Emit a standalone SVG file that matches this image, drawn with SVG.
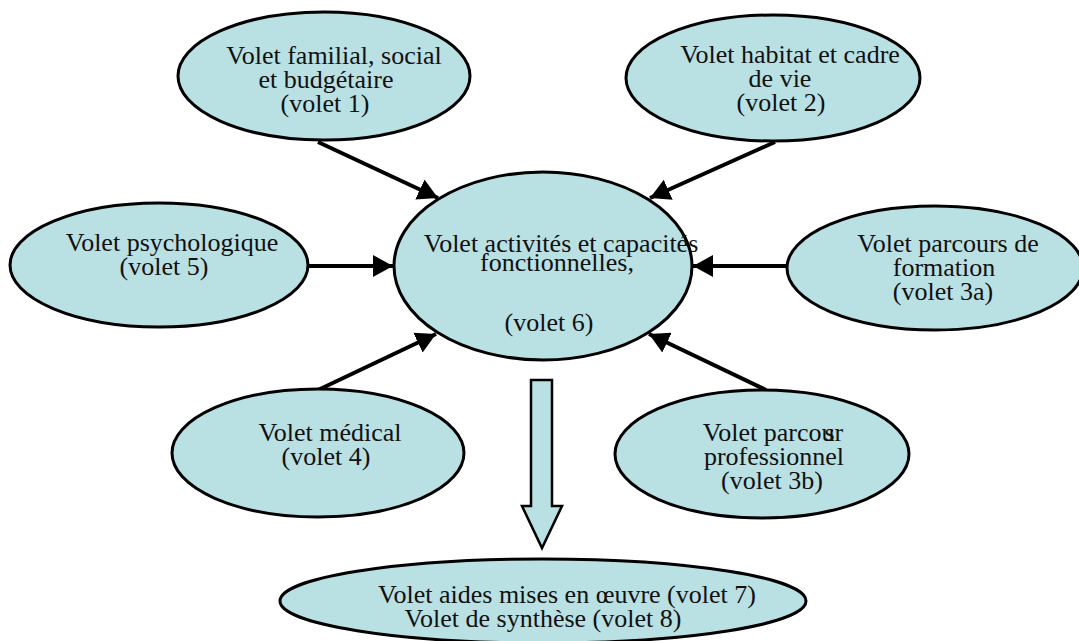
<svg xmlns="http://www.w3.org/2000/svg" width="1079" height="641" viewBox="0 0 1079 641">
<style>
.n{fill:#b9e0e3;stroke:#000;stroke-width:3}
.t{font-family:'Liberation Serif','Times New Roman',serif;font-size:26px;fill:#111;text-anchor:middle}
.c{stroke:#000;stroke-width:4;fill:none;marker-end:url(#ah)}
</style>
<defs>
<marker id="ah" viewBox="0 0 10 11" refX="10" refY="5.5" markerWidth="5" markerHeight="5.5" orient="auto" markerUnits="strokeWidth">
<path d="M0,0 L10,5.5 L0,11 Z" fill="#000"/>
</marker>
</defs>
<rect width="1079" height="641" fill="#fff"/>
<g id="connectors">
<line class="c" x1="318" y1="142" x2="438" y2="198"/>
<line class="c" x1="775" y1="142" x2="650" y2="198"/>
<line class="c" x1="308" y1="266" x2="393" y2="266"/>
<line class="c" x1="788" y1="266" x2="693" y2="266"/>
<line class="c" x1="318" y1="390" x2="436" y2="334"/>
<line class="c" x1="766" y1="390" x2="649" y2="334"/>
<path d="M531,380 H552 V506 H562 L542,548 L522,506 H531 Z" fill="#b9e0e3" stroke="#000" stroke-width="2.5"/>
</g>
<g id="v1">
<ellipse class="n" cx="324" cy="76" rx="146" ry="64"/>
<text class="t" x="334" y="64">Volet familial, social</text>
<text class="t" x="326" y="88">et budgétaire</text>
<text class="t" x="325" y="112">(volet 1)</text>
</g>
<g id="v2">
<ellipse class="n" cx="773" cy="78" rx="147" ry="63"/>
<text class="t" x="790" y="63">Volet habitat et cadre</text>
<text class="t" x="780" y="87">de vie</text>
<text class="t" x="781" y="111">(volet 2)</text>
</g>
<g id="v6">
<ellipse class="n" cx="543" cy="266" rx="149" ry="94"/>
<text class="t" x="561" y="252">Volet activités et capacités</text>
<text class="t" x="557" y="271">fonctionnelles,</text>
<text class="t" x="549" y="331">(volet 6)</text>
</g>
<g id="v5">
<ellipse class="n" cx="159" cy="265" rx="149" ry="62"/>
<text class="t" x="172" y="251">Volet psychologique</text>
<text class="t" x="164" y="275">(volet 5)</text>
</g>
<g id="v3a">
<ellipse class="n" cx="935" cy="268" rx="148" ry="62"/>
<text class="t" x="948" y="252">Volet parcours de</text>
<text class="t" x="944" y="276">formation</text>
<text class="t" x="943" y="300">(volet 3a)</text>
</g>
<g id="v4">
<ellipse class="n" cx="318" cy="453" rx="146" ry="64"/>
<text class="t" x="330" y="441">Volet médical</text>
<text class="t" x="326" y="465">(volet 4)</text>
</g>
<g id="v3b">
<ellipse class="n" cx="762" cy="454" rx="147" ry="64"/>
<text class="t" x="773" y="441">Volet parcou<tspan dx="-10">s</tspan><tspan dx="0">r</tspan></text>
<text class="t" x="774" y="465">professionnel</text>
<text class="t" x="772" y="489">(volet 3b)</text>
</g>
<g id="v78">
<ellipse class="n" cx="543" cy="601" rx="263" ry="42"/>
<text class="t" x="567" y="603">Volet aides mises en œuvre (volet 7)</text>
<text class="t" x="543" y="627">Volet de synthèse (volet 8)</text>
</g>
</svg>
